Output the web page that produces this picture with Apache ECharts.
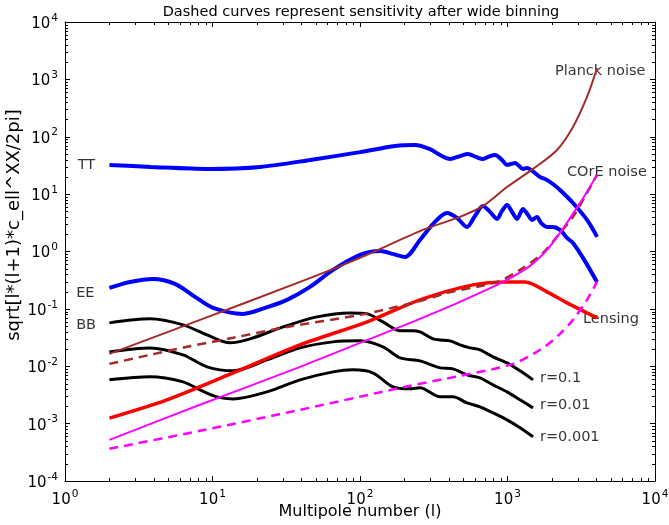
<!DOCTYPE html>
<html>
<head>
<meta charset="utf-8">
<script src="https://cdn.jsdelivr.net/npm/echarts@6/dist/echarts.min.js"></script>
<style>
  html, body { margin: 0; padding: 0; background: #fff; }
  #chart { width: 669px; height: 525px; }
</style>
</head>
<body>
<div id="chart"></div>
<script>
// CMB power spectra (sqrt of l(l+1)C_l/2pi) with noise levels
const ttEll = [2,3.8,9.6,21,46,100,173,236,298,349,408,476,540,611,682,761,823,918,993,1057,1125,1197,1274,1356,1443,1560,1660,1853,2033,2270,2780,3460,4050];
const ttVal = [32.3,29.8,27.5,29.8,39.4,54,69,72,61,48,41,46,50,44.5,41,46,48,39.4,32.3,33.6,35,31,27.5,28.6,26.4,22.5,19.9,17.7,15,11.8,7.0,3.55,1.8];

const eeEll = [2,2.76,3.95,5.57,7.61,10.1,16.1,22.7,32,45.8,65.6,100,137,167,202,255,322,389,455,531,602,682,761,849,918,993,1073,1160,1274,1377,1466,1585,1687,1853,2033,2270,2531,2780,3250,4045];
const eeVal = [0.232,0.295,0.333,0.273,0.162,0.104,0.0818,0.104,0.1435,0.2415,0.478,0.873,1.024,0.908,0.805,1.59,3.28,4.70,3.85,2.68,4.17,6.23,4.90,3.70,5.10,6.48,4.90,3.70,5.52,4.34,3.55,4.01,3.15,2.68,2.68,2.38,1.73,1.41,0.775,0.295];

const bb1Ell = [2,3.77,6.31,9.18,13.1,18.0,30.1,51.1,85.5,112,143,187,225,255,313,349,408,476,557,651,797,993,1216,1489];
const bb1Val = [0.0570,0.0670,0.0526,0.0352,0.0256,0.0300,0.0485,0.0726,0.0851,0.0818,0.0594,0.0414,0.0414,0.0397,0.0300,0.0288,0.0277,0.0236,0.0209,0.0193,0.0146,0.01146,0.00832,0.00579];

const bb2Ell = [2,3.77,6.31,9.18,13.8,23.4,39.2,65.6,100,143,187,255,349,427,531,651,797,993,1216,1489];
const bb2Val = [0.0178,0.0209,0.0158,0.00977,0.00832,0.0129,0.0209,0.0266,0.0277,0.0218,0.0140,0.0124,0.00938,0.00901,0.00708,0.00628,0.00474,0.00358,0.00260,0.00188];

const bb3Ell = [2,3.77,6.31,8.23,10.7,13.8,23.4,39.2,65.6,89.7,122,167,218,255,349,427,531,651,797,993,1216,1489];
const bb3Val = [0.00579,0.00653,0.00535,0.00388,0.00293,0.00270,0.00358,0.00579,0.00798,0.00865,0.00767,0.00438,0.00404,0.00421,0.00293,0.00293,0.00230,0.00196,0.00154,0.00116,0.000845,0.000589];

const lensEll = [2,4.91,13.8,39.2,112,255,584,993,1314,1853,2531,4045];
const lensVal = [0.00125,0.0026,0.00767,0.0236,0.0594,0.1435,0.262,0.295,0.295,0.1977,0.127,0.0697];

const planckEll = [2,8.23,39.2,100,267,476,682,993,1489,2166,2780,3458,4045];
const planckVal = [0.01644,0.0643,0.295,0.775,2.38,4.01,6.23,13.3,27.5,58.9,148,493,1581];

const planckBinEll = [2,3.77,6.72,13.8,32,100,243,389,849,1216,1741,2270,2780,3458,4045];
const planckBinVal = [0.0110,0.0158,0.0218,0.0313,0.0485,0.0786,0.1324,0.190,0.295,0.478,0.946,2.11,4.01,10.5,21.6];

const coreEll = [2,8.23,39.2,137,255,476,932,1421,1853,2270,3103,4045];
const coreVal = [0.000522,0.00213,0.00977,0.0353,0.0670,0.1324,0.295,0.561,1.066,2.11,7.03,21.6];

const coreBinEll = [2,8.23,39.2,218,476,1089,1741,2270,2780,3458,4045];
const coreBinVal = [0.000364,0.000750,0.00174,0.00456,0.00681,0.0110,0.0209,0.0367,0.0643,0.1435,0.295];

// curve annotations (text, anchor multipole, anchor amplitude)
const noteText = ['TT','EE','BB','Planck noise','COrE noise','Lensing','r=0.1','r=0.01','r=0.001'];
const noteEll  = [1.22,1.19,1.19,2099,2531,3250,1660,1660,1660];
const noteVal  = [32.3,0.190,0.0526,1400,24.4,0.067,0.00628,0.00213,0.000589];

const yTitle = 'sqrt[l*(l+1)*c_ell^XX/2pi]';

const xMin = 1, xMax = 1e4, yMin = 1e-4, yMax = 1e4;
const FONT = 'DejaVu Sans';

function zip(a, b) { return a.map((v, i) => [v, b[i]]); }

// minor tick values (2..9 in each decade)
const minorTicks = [];
for (let e = 0; e < 4; e++) for (let d = 2; d <= 9; d++) minorTicks.push([d * Math.pow(10, e), yMin, 0]);
for (let e = -4; e < 4; e++) for (let d = 2; d <= 9; d++) minorTicks.push([xMin, d * Math.pow(10, e), 1]);

function powLabel(v) {
  const e = Math.round(Math.log10(v));
  return '{b|10}{s|' + e + '}';
}
const richPow = {
  b: { fontFamily: FONT, fontSize: 15, color: '#000', lineHeight: 19, verticalAlign: 'bottom' },
  s: { fontFamily: FONT, fontSize: 10.5, color: '#000', lineHeight: 19, verticalAlign: 'top', padding: [0, 0, 0, 1] }
};

function lineSeries(name, ell, val, color, width, dashed) {
  return {
    name: name, type: 'line', xAxisIndex: 0, yAxisIndex: 0,
    data: zip(ell, val), showSymbol: false, smooth: 0.3,
    lineStyle: { color: color, width: width, type: dashed ? [9, 6] : 'solid', cap: 'butt' },
    silent: true
  };
}

const chart = echarts.init(document.getElementById('chart'), null, { renderer: 'canvas' });
chart.setOption({
  animation: false,
  backgroundColor: '#fff',
  title: {
    text: 'Dashed curves represent sensitivity after wide binning',
    left: 356, top: 0, textAlign: 'center',
    textStyle: { fontFamily: FONT, fontSize: 14.5, fontWeight: 'normal', color: '#000' }
  },
  // vertical axis title, drawn beside the plot frame
  graphic: [{
    type: 'text', x: 14, y: 225, rotation: Math.PI / 2, silent: true,
    style: { text: yTitle, fontFamily: FONT, fontSize: 18, fill: '#000', align: 'center', verticalAlign: 'middle' }
  }],
  grid: { left: 65, right: 14, top: 22, bottom: 44, outerBoundsMode: 'none' },
  xAxis: [{
    type: 'log', logBase: 10, min: xMin, max: xMax, position: 'bottom',
    name: 'Multipole number (l)', nameLocation: 'middle', nameGap: 23, nameMoveOverlap: false,
    nameTextStyle: { fontFamily: FONT, fontSize: 16, color: '#000' },
    axisLine: { lineStyle: { color: '#000', width: 1 } },
    axisTick: { inside: true, length: 5, lineStyle: { color: '#000' } },
    axisLabel: { formatter: powLabel, rich: richPow, margin: 8 },
    splitLine: { show: false }
  }, {
    type: 'log', logBase: 10, min: xMin, max: xMax, position: 'top',
    axisLine: { lineStyle: { color: '#000', width: 1 } },
    axisTick: { inside: true, length: 5, lineStyle: { color: '#000' } },
    axisLabel: { show: false }, splitLine: { show: false }
  }],
  yAxis: [{
    type: 'log', logBase: 10, min: yMin, max: yMax, position: 'left',
    axisLine: { lineStyle: { color: '#000', width: 1 } },
    axisTick: { inside: true, length: 5, lineStyle: { color: '#000' } },
    axisLabel: { formatter: powLabel, rich: richPow, margin: 7 },
    splitLine: { show: false }
  }, {
    type: 'log', logBase: 10, min: yMin, max: yMax, position: 'right',
    axisLine: { lineStyle: { color: '#000', width: 1 } },
    axisTick: { inside: true, length: 5, lineStyle: { color: '#000' } },
    axisLabel: { show: false }, splitLine: { show: false }
  }],
  series: [
    lineSeries('TT', ttEll, ttVal, '#0000ff', 4, false),
    lineSeries('EE', eeEll, eeVal, '#0000ff', 4, false),
    lineSeries('BB r=0.1', bb1Ell, bb1Val, '#000000', 3, false),
    lineSeries('BB r=0.01', bb2Ell, bb2Val, '#000000', 3, false),
    lineSeries('BB r=0.001', bb3Ell, bb3Val, '#000000', 3, false),
    lineSeries('Lensing', lensEll, lensVal, '#ff0000', 3.5, false),
    lineSeries('Planck noise', planckEll, planckVal, '#a52a2a', 2, false),
    lineSeries('Planck binned', planckBinEll, planckBinVal, '#a52a2a', 2.5, true),
    lineSeries('COrE noise', coreEll, coreVal, '#ff00ff', 2, false),
    lineSeries('COrE binned', coreBinEll, coreBinVal, '#ff00ff', 2.5, true),
    {
      name: 'notes', type: 'scatter', symbolSize: 0, silent: true,
      data: noteText.map((t, i) => ({ value: [noteEll[i], noteVal[i]], name: t })),
      label: {
        show: true, position: [0, 0], align: 'left', verticalAlign: 'middle',
        formatter: p => p.name,
        fontFamily: FONT, fontSize: 14.5, color: '#000'
      }
    },
    {
      name: 'minor ticks', type: 'custom', silent: true, clip: false,
      data: minorTicks,
      renderItem: function (params, api) {
        const kind = api.value(2);
        const style = { stroke: '#000', lineWidth: 1 };
        if (kind === 0) {
          const b = api.coord([api.value(0), yMin]);
          const t = api.coord([api.value(0), yMax]);
          const x = Math.round(b[0]) + 0.5;
          return { type: 'group', children: [
            { type: 'line', shape: { x1: x, y1: b[1], x2: x, y2: b[1] - 3 }, style: style },
            { type: 'line', shape: { x1: x, y1: t[1], x2: x, y2: t[1] + 3 }, style: style }
          ] };
        }
        const l = api.coord([xMin, api.value(1)]);
        const r = api.coord([xMax, api.value(1)]);
        const y = Math.round(l[1]) + 0.5;
        return { type: 'group', children: [
          { type: 'line', shape: { x1: l[0], y1: y, x2: l[0] + 3, y2: y }, style: style },
          { type: 'line', shape: { x1: r[0], y1: y, x2: r[0] - 3, y2: y }, style: style }
        ] };
      }
    }
  ]
});
</script>
</body>
</html>
